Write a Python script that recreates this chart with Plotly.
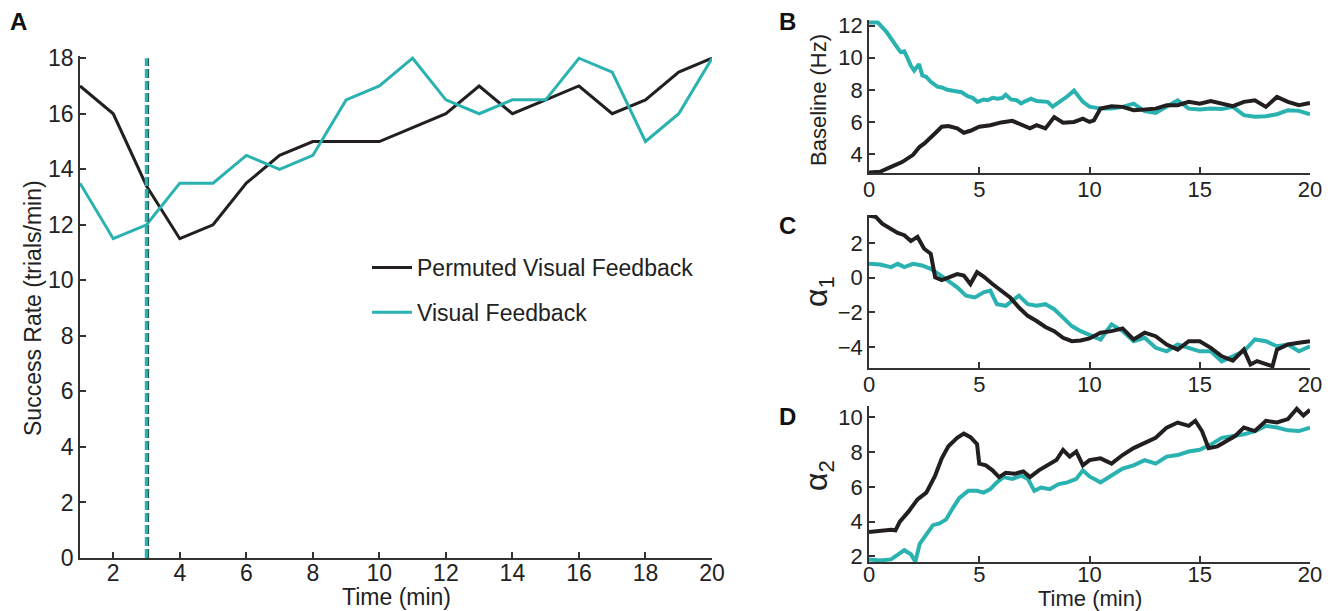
import plotly.graph_objects as go

# ---------------- Panel A data ----------------
minutes = list(range(1, 21))
permuted_rate = [17, 16, 13.4, 11.5, 12, 13.5, 14.5, 15, 15, 15, 15.5, 16, 17, 16, 16.5, 17, 16, 16.5, 17.5, 18]
visual_rate = [13.5, 11.5, 12, 13.5, 13.5, 14.5, 14, 14.5, 16.5, 17, 18, 16.5, 16, 16.5, 16.5, 18, 17.5, 15, 16, 18]
switch_time = 3.0

# ---------------- Panel B data (Baseline, Hz) ----------------
b_vis_t = [0, 0.4, 0.8, 1.14, 1.3, 1.44, 1.6, 1.74, 1.9, 2.05, 2.27, 2.42, 2.6, 2.8, 3.1, 3.3, 3.56, 4.0, 4.2, 4.47, 4.7, 4.92, 5.2, 5.38, 5.6, 5.83, 6.05, 6.2, 6.44, 6.7, 6.9, 7.1, 7.35, 7.6, 7.8, 8.1, 8.33, 8.5, 8.7, 9.0, 9.3, 9.5, 9.7, 10,
           10.5, 11, 11.5, 12, 12.5, 13, 13.5, 14, 14.5, 15, 15.5, 16, 16.5, 17, 17.5, 18, 18.5, 19, 19.5, 20]
b_vis = [12.2, 12.2, 11.6, 10.86, 10.6, 10.35, 10.4, 10.0, 9.5, 9.2, 9.6, 8.9, 8.8, 8.5, 8.2, 8.15, 8.0, 7.9, 7.85, 7.6, 7.5, 7.25, 7.4, 7.35, 7.5, 7.45, 7.5, 7.7, 7.4, 7.35, 7.15, 7.3, 7.45, 7.3, 7.3, 7.25, 6.95, 7.1, 7.3, 7.6, 7.95, 7.6, 7.25, 6.95,
         6.83, 6.83, 6.94, 7.14, 6.67, 6.57, 6.94, 7.35, 6.83, 6.77, 6.83, 6.8, 6.94, 6.42, 6.32, 6.36, 6.48, 6.73, 6.69, 6.48]
b_perm_t = [0, 0.5, 1.0, 1.5, 2.0, 2.3, 2.5, 2.8, 3.0, 3.3, 3.6, 4.0, 4.3, 4.6, 5.0, 5.5, 6.0, 6.5, 7.0, 7.3, 7.6, 8.0, 8.4, 8.8, 9.3, 9.7, 10.0, 10.2,
            10.5, 11, 11.5, 12, 12.5, 13, 13.5, 14, 14.5, 15, 15.5, 16, 16.5, 17, 17.5, 18, 18.5, 19, 19.5, 20]
b_perm = [2.85, 2.9, 3.2, 3.5, 3.95, 4.45, 4.65, 5.0, 5.3, 5.7, 5.74, 5.6, 5.33, 5.45, 5.7, 5.8, 5.97, 6.07, 5.8, 5.6, 5.8, 5.6, 6.3, 5.95, 6.0, 6.2, 6.0, 6.1,
          6.83, 6.98, 6.94, 6.73, 6.77, 6.83, 7.04, 7.04, 7.25, 7.14, 7.3, 7.14, 6.98, 7.25, 7.35, 6.94, 7.56, 7.25, 7.04, 7.18]

# ---------------- Panel C data (alpha 1) ----------------
c_perm_t = [0, 0.3, 0.6, 1.0, 1.3, 1.6, 1.9, 2.2, 2.5, 2.8, 3.0, 3.3, 3.6, 4.0, 4.3, 4.6, 4.9, 5.2, 5.6, 6.0, 6.4, 6.8, 7.2, 7.6, 8.0, 8.4, 8.8, 9.2, 9.6, 10,
            10.5, 11, 11.5, 12, 12.5, 13, 13.5, 14, 14.5, 15, 15.5, 16, 16.5, 17, 17.3, 17.6, 18, 18.3, 18.5, 19, 19.5, 20]
c_perm = [3.56, 3.5, 3.1, 2.82, 2.57, 2.44, 2.1, 2.34, 1.66, 1.37, 0.02, -0.14, -0.02, 0.2, 0.12, -0.37, 0.31, 0.06, -0.37, -0.75, -1.14, -1.72, -2.2, -2.5, -2.84, -3.08, -3.46, -3.66, -3.62, -3.5,
          -3.17, -3.08, -2.92, -3.56, -3.17, -3.37, -3.85, -4.14, -3.66, -3.66, -4.04, -4.53, -4.78, -4.14, -5.0, -4.8, -5.0, -5.1, -4.14, -3.85, -3.75, -3.66]
c_vis_t = [0, 0.5, 1.0, 1.3, 1.6, 2.0, 2.4, 2.8, 3.2, 3.6, 4.0, 4.4, 4.8, 5.2, 5.5, 5.8, 6.2, 6.5, 6.8, 7.2, 7.6, 8.0, 8.4, 8.8, 9.2, 9.6, 10,
           10.5, 11, 11.5, 12, 12.5, 13, 13.5, 14, 15, 15.5, 16, 16.5, 17, 17.5, 18, 18.5, 19, 19.5, 20]
c_vis = [0.79, 0.75, 0.6, 0.79, 0.6, 0.79, 0.7, 0.5, 0.17, -0.17, -0.56, -1.04, -1.14, -0.85, -0.75, -1.53, -1.62, -1.33, -1.04, -1.53, -1.62, -1.53, -1.82, -2.3, -2.79, -3.08, -3.3,
         -3.56, -2.69, -3.08, -3.66, -3.46, -4.04, -4.24, -3.85, -4.24, -4.24, -4.82, -4.53, -4.24, -3.56, -3.66, -3.95, -3.85, -4.24, -3.95]

# ---------------- Panel D data (alpha 2) ----------------
d_perm_t = [0, 0.5, 1.0, 1.2, 1.4, 1.8, 2.2, 2.6, 3.0, 3.3, 3.6, 4.0, 4.3, 4.6, 4.9, 5.0, 5.3, 5.6, 5.9, 6.2, 6.6, 7.0, 7.3, 7.7, 8.1, 8.5, 8.8, 9.1, 9.4, 9.7, 10,
            10.5, 11, 11.5, 12, 12.5, 13, 13.5, 14, 14.5, 14.8, 15.1, 15.4, 15.8, 16.2, 16.6, 17, 17.5, 18, 18.5, 19, 19.4, 19.7, 20]
d_perm = [3.4, 3.46, 3.54, 3.5, 4.0, 4.59, 5.28, 5.67, 6.65, 7.64, 8.33, 8.82, 9.06, 8.86, 8.46, 7.34, 7.24, 6.95, 6.56, 6.81, 6.75, 6.89, 6.56, 6.95, 7.24, 7.54, 8.13, 7.74, 8.03, 7.24, 7.54,
          7.64, 7.34, 7.83, 8.23, 8.52, 8.82, 9.41, 9.7, 9.51, 9.8, 9.21, 8.23, 8.33, 8.62, 8.92, 9.41, 9.21, 9.8, 9.7, 9.9, 10.49, 10.1, 10.43]
d_vis_t = [0, 0.5, 1.0, 1.3, 1.6, 1.9, 2.1, 2.3, 2.6, 2.9, 3.2, 3.5, 3.8, 4.1, 4.5, 4.9, 5.2, 5.5, 5.8, 6.1, 6.5, 6.9, 7.2, 7.5, 7.8, 8.2, 8.6, 9.0, 9.4, 9.7, 10,
           10.5, 11, 11.5, 12, 12.5, 13, 13.5, 14, 14.5, 15, 15.5, 16, 16.5, 17, 17.5, 18, 18.5, 19, 19.5, 20]
d_vis = [1.83, 1.77, 1.83, 2.13, 2.36, 2.13, 1.7, 2.72, 3.31, 3.8, 3.9, 4.13, 4.78, 5.37, 5.77, 5.77, 5.67, 5.87, 6.26, 6.56, 6.46, 6.65, 6.46, 5.77, 5.96, 5.87, 6.16, 6.26, 6.46, 6.95, 6.6,
         6.26, 6.65, 7.05, 7.24, 7.54, 7.34, 7.74, 7.83, 8.03, 8.13, 8.43, 8.82, 8.92, 9.02, 9.21, 9.51, 9.41, 9.25, 9.21, 9.41]

# ---------------- styling ----------------
W, H = 1330, 611
BLACK = "#231f20"
TEAL = "#2ab2b0"
AXC = "#333333"
FONT = "Liberation Sans, Arial, sans-serif"


def px(x):
    return x / W


def py(y):
    return 1 - y / H


fig = go.Figure()

# Panel A traces
fig.add_trace(go.Scatter(x=minutes, y=permuted_rate, mode="lines", name="Permuted Visual Feedback",
                         line=dict(color=BLACK, width=3), xaxis="x", yaxis="y", legendgroup="p"))
fig.add_trace(go.Scatter(x=minutes, y=visual_rate, mode="lines", name="Visual Feedback",
                         line=dict(color=TEAL, width=3), xaxis="x", yaxis="y", legendgroup="v"))

panels = [
    ("x2", "y2", b_perm_t, b_perm, b_vis_t, b_vis),
    ("x3", "y3", c_perm_t, c_perm, c_vis_t, c_vis),
    ("x4", "y4", d_perm_t, d_perm, d_vis_t, d_vis),
]
for xa, ya, pt, pv, vt, vv in panels:
    fig.add_trace(go.Scatter(x=vt, y=vv, mode="lines", showlegend=False,
                             line=dict(color=TEAL, width=4), xaxis=xa, yaxis=ya))
    fig.add_trace(go.Scatter(x=pt, y=pv, mode="lines", showlegend=False,
                             line=dict(color=BLACK, width=4), xaxis=xa, yaxis=ya))


def axis(size, **kw):
    d = dict(showgrid=False, zeroline=False, showline=True, linecolor=AXC, linewidth=1.5,
             ticks="inside", ticklen=6, tickcolor=AXC, tickwidth=1.5, automargin=False,
             tickfont=dict(family=FONT, size=size, color="#222"))
    d.update(kw)
    return d


fig.update_layout(
    template="none",
    width=W, height=H,
    margin=dict(l=0, r=0, t=0, b=0, pad=0),
    paper_bgcolor="white", plot_bgcolor="white",
    font=dict(family=FONT, color="#222"),
    xaxis=axis(23, domain=[px(80), px(712)], range=[1, 20], tickvals=list(range(2, 21, 2)), anchor="y",
               ticklabelstandoff=-6),
    yaxis=axis(23, domain=[py(558), py(56)], range=[0, 18.08], tickvals=list(range(0, 19, 2)), anchor="x"),
    xaxis2=axis(22, domain=[px(869), px(1310)], range=[0, 20], tickvals=[0, 5, 10, 15, 20], anchor="y2",
                ticklabelstandoff=-4),
    yaxis2=axis(22, domain=[py(173), py(20)], range=[2.82, 12.35], tickvals=[4, 6, 8, 10, 12], anchor="x2"),
    xaxis3=axis(22, domain=[px(869), px(1310)], range=[0, 20], tickvals=[0, 5, 10, 15, 20], anchor="y3",
                ticklabelstandoff=-4),
    yaxis3=axis(22, domain=[py(368), py(215)], range=[-5.2, 3.6], tickvals=[-4, -2, 0, 2], anchor="x3"),
    xaxis4=axis(22, domain=[px(869), px(1310)], range=[0, 20], tickvals=[0, 5, 10, 15, 20], anchor="y4",
                ticklabelstandoff=-8),
    yaxis4=axis(22, domain=[py(562), py(406)], range=[1.68, 10.65], tickvals=[2, 4, 6, 8, 10], anchor="x4"),
    legend=dict(x=px(367), y=py(246), xanchor="left", yanchor="top", bgcolor="rgba(0,0,0,0)",
                font=dict(family=FONT, size=23, color="#222"), tracegroupgap=12, itemwidth=40),
    showlegend=True,
)

# switch marker (dashed vertical line) in panel A
fig.add_shape(type="line", xref="x", yref="y", x0=switch_time, x1=switch_time, y0=0, y1=18,
              line=dict(color=TEAL, width=3.5, dash="9px,3px"))
fig.add_shape(type="line", xref="x", yref="y", x0=switch_time + 0.06, x1=switch_time + 0.06, y0=0, y1=18,
              line=dict(color="#2a5c5c", width=1.2, dash="9px,3px"))


def label(text, x, y, size, angle=0, color="#222"):
    return dict(text=text, x=px(x), y=py(y), xref="paper", yref="paper", xanchor="center", yanchor="middle",
                textangle=angle, showarrow=False, font=dict(family=FONT, size=size, color=color))


ann = []
for lbl, x, y in [("A", 18, 22), ("B", 787, 22), ("C", 787, 226), ("D", 787, 416)]:
    ann.append(label("<b>%s</b>" % lbl, x, y, 24, color="#111"))
ann.append(label("Success Rate (trials/min)", 33, 308, 23, -90))
ann.append(label("Time (min)", 396, 597, 23))
ann.append(label("Baseline (Hz)", 818, 100, 22, -90))
ann.append(label("α<sub>1</sub>", 818, 292, 32, -90))
ann.append(label("α<sub>2</sub>", 818, 476, 32, -90))
ann.append(label("Time (min)", 1090, 598, 22))
fig.update_layout(annotations=ann)

fig.write_html("out.html", config={"displayModeBar": False},
               post_script="document.body.style.margin='0px';document.body.style.overflow='hidden';")
